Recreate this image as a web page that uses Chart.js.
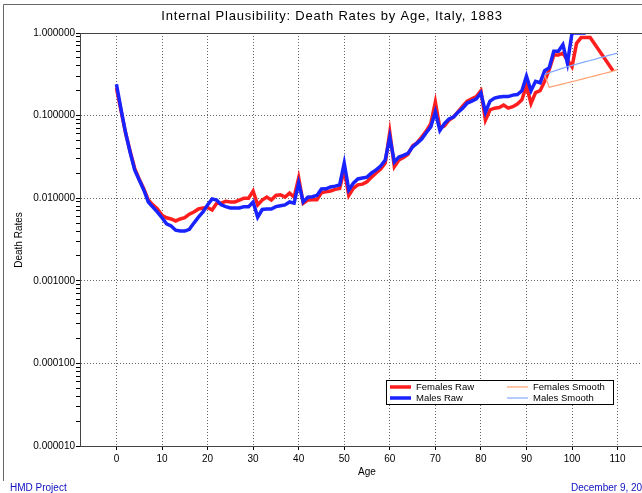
<!DOCTYPE html>
<html>
<head>
<meta charset="utf-8">
<script src="https://cdn.jsdelivr.net/npm/chart.js@4"></script>
<style>
  html, body { margin: 0; padding: 0; background: #fff; overflow: hidden; }
  #wrap { width: 664px; height: 493px; }
</style>
</head>
<body>
<div id="wrap"><canvas id="chart" width="664" height="493"></canvas></div>
<script>
// Вік 0..110
const ages = [0,1,2,3,4,5,6,7,8,9,10,11,12,13,14,15,16,17,18,19,20,21,22,23,24,25,26,27,28,29,
  30,31,32,33,34,35,36,37,38,39,40,41,42,43,44,45,46,47,48,49,50,51,52,53,54,55,56,57,58,59,
  60,61,62,63,64,65,66,67,68,69,70,71,72,73,74,75,76,77,78,79,80,81,82,83,84,85,86,87,88,89,
  90,91,92,93,94,95,96,97,98,99,100,101,102,103,104,105,106,107,108,109,110];

const femalesRaw = [0.215,0.115,0.062,0.037,0.023,0.017,0.013,0.0095,0.0083,0.0074,
  0.0062,0.0058,0.0056,0.0053,0.0056,0.0058,0.0064,0.0068,0.0074,0.0076,
  0.0077,0.0072,0.0087,0.0087,0.0092,0.0090,0.0090,0.0095,0.0100,0.0100,
  0.0122,0.0083,0.0095,0.0103,0.0095,0.0108,0.0110,0.0103,0.0115,0.0103,
  0.0176,0.0087,0.0095,0.0096,0.0096,0.0116,0.0120,0.0122,0.0128,0.0131,
  0.022,0.0108,0.0132,0.0145,0.0148,0.0158,0.018,0.0202,0.0225,0.0266,
  0.063,0.024,0.029,0.031,0.034,0.043,0.047,0.055,0.065,0.080,
  0.146,0.070,0.075,0.088,0.096,0.112,0.130,0.150,0.160,0.170,
  0.200,0.088,0.117,0.123,0.125,0.134,0.123,0.128,0.138,0.155,
  0.23,0.14,0.19,0.20,0.26,0.36,0.54,0.54,0.57,0.47,
  0.39,0.75,0.88,0.88,0.88,null,null,null,null,0.35,null];

const malesRaw = [0.24,0.12,0.062,0.036,0.022,0.0166,0.0126,0.0090,0.0078,0.0068,
  0.0058,0.0049,0.0046,0.0041,0.0040,0.0040,0.0042,0.0050,0.0059,0.0068,
  0.0083,0.0098,0.0095,0.0083,0.0079,0.0076,0.0076,0.0076,0.0079,0.0079,
  0.0090,0.0059,0.0073,0.0074,0.0074,0.0079,0.0081,0.0083,0.0090,0.0087,
  0.0153,0.0090,0.0103,0.0104,0.0108,0.0129,0.0130,0.0137,0.0140,0.0145,
  0.0266,0.0126,0.0152,0.0171,0.0176,0.0180,0.0202,0.0220,0.0245,0.0290,
  0.055,0.0275,0.0315,0.033,0.035,0.0417,0.0465,0.052,0.062,0.073,
  0.111,0.066,0.080,0.091,0.096,0.110,0.123,0.142,0.150,0.160,
  0.188,0.110,0.150,0.163,0.168,0.170,0.170,0.177,0.180,0.200,
  0.30,0.20,0.26,0.25,0.35,0.38,0.60,0.60,0.72,0.43,
  1.0,1.0,1.0,1.0,null,null,null,null,null,null,null];

// Згладжені значення для старших віків
const smoothAges = [94,95,96,97,98,99,100,101,102,103,104,105,106,107,108,109,110];
const femalesSmooth = [0.31,0.220,0.227,0.234,0.242,0.250,0.258,0.266,0.275,0.284,0.293,0.303,0.313,0.323,0.334,0.345,0.360];
const malesSmooth = [0.31,0.330,0.345,0.360,0.375,0.390,0.405,0.420,0.435,0.450,0.465,0.480,0.500,0.515,0.535,0.550,0.570];

const xTicks = [0,10,20,30,40,50,60,70,80,90,100,110];
const yTicks = [0.00001,0.0001,0.001,0.01,0.1,1];

const FONT = "'Liberation Sans', Arial, sans-serif";

function isMajor(v) {
  const l = Math.log10(v);
  return Math.abs(l - Math.round(l)) < 1e-9;
}

function points(xs, ys) {
  return xs.map((x, i) => ({ x, y: ys[i] }));
}

// Рамки, заголовки, легенда
const decor = {
  id: 'decor',
  beforeDraw(chart) {
    const ctx = chart.ctx;
    ctx.save();
    ctx.fillStyle = '#fff';
    ctx.fillRect(0, 0, chart.width, chart.height);
    ctx.restore();
  },
  afterDraw(chart) {
    const ctx = chart.ctx;
    const a = chart.chartArea;
    ctx.save();
    ctx.strokeStyle = '#444';
    ctx.lineWidth = 1;
    ctx.strokeRect(a.left + 0.5, a.top + 0.5, a.right - a.left, a.bottom - a.top);
    // зовнішня рамка: верх і лівий край
    ctx.strokeStyle = '#666';
    ctx.beginPath();
    ctx.moveTo(3.5, 481);
    ctx.lineTo(3.5, 4.5);
    ctx.lineTo(664, 4.5);
    ctx.stroke();

    ctx.fillStyle = '#000';
    ctx.textBaseline = 'middle';
    ctx.textAlign = 'center';
    ctx.font = '13px ' + FONT;
    ctx.letterSpacing = '0.8px';
    ctx.fillText('Internal Plausibility: Death Rates by Age, Italy, 1883', 332, 16);
    ctx.letterSpacing = '0px';
    ctx.font = '10px ' + FONT;
    ctx.fillText('Age', 367, 472);
    ctx.save();
    ctx.translate(19, 240);
    ctx.rotate(-Math.PI / 2);
    ctx.fillText('Death Rates', 0, 0);
    ctx.restore();

    ctx.fillStyle = '#1010c0';
    ctx.textAlign = 'left';
    ctx.fillText('HMD Project', 10, 488);
    ctx.fillText('December 9, 2006', 571, 488);

    // легенда
    ctx.fillStyle = '#fff';
    ctx.fillRect(386, 380, 228, 25);
    ctx.strokeStyle = '#000';
    ctx.lineWidth = 1;
    ctx.strokeRect(386.5, 380.5, 227, 24);
    chart.data.datasets.forEach((ds, i) => {
      const lx = i < 2 ? 390 : 507;
      const ly = i % 2 === 0 ? 387 : 398;
      ctx.strokeStyle = ds.borderColor;
      ctx.lineWidth = ds.borderWidth;
      ctx.beginPath();
      ctx.moveTo(lx, ly);
      ctx.lineTo(lx + 21, ly);
      ctx.stroke();
      ctx.fillStyle = '#000';
      ctx.font = '9.5px ' + FONT;
      ctx.fillText(ds.label, lx + 26, ly);
    });
    ctx.restore();
  }
};

const chart = new Chart(document.getElementById('chart'), {
  type: 'line',
  data: {
    datasets: [
      { label: 'Females Raw', data: points(ages, femalesRaw), borderColor: 'rgb(255,30,30)', borderWidth: 3.5, order: 2, spanGaps: true },
      { label: 'Males Raw', data: points(ages, malesRaw), borderColor: 'rgb(25,35,255)', borderWidth: 3.5, order: 1 },
      { label: 'Females Smooth', data: points(smoothAges, femalesSmooth), borderColor: 'rgb(255,160,115)', borderWidth: 1.2, order: 0 },
      { label: 'Males Smooth', data: points(smoothAges, malesSmooth), borderColor: 'rgb(130,170,255)', borderWidth: 1.2, order: 0 }
    ]
  },
  options: {
    responsive: false,
    animation: false,
    devicePixelRatio: 1,
    elements: { point: { radius: 0 }, line: { tension: 0 } },
    layout: { padding: { top: 33, right: 10, left: 0, bottom: 0 } },
    plugins: { legend: { display: false }, tooltip: { enabled: false } },
    scales: {
      x: {
        type: 'linear',
        min: -8,
        max: 118,
        afterBuildTicks: s => { s.ticks = xTicks.map(v => ({ value: v })); },
        afterFit: s => { s.height = 47; },
        ticks: { color: '#000', font: { size: 10, family: FONT }, padding: 3, maxRotation: 0, autoSkip: false },
        grid: { color: '#666', lineWidth: 1, tickColor: '#000', tickLength: 4 },
        border: { display: true, color: '#444', dash: [1, 2] }
      },
      y: {
        type: 'logarithmic',
        min: 0.00001,
        max: 1,
        afterBuildTicks: s => {
          const t = [];
          yTicks.forEach((m, k) => {
            t.push({ value: m });
            if (k < yTicks.length - 1) {
              for (let d = 2; d <= 9; d++) t.push({ value: m * d });
            }
          });
          s.ticks = t;
        },
        afterFit: s => { s.width = 80; },
        ticks: {
          color: '#000', font: { size: 10, family: FONT }, padding: 1, autoSkip: false,
          callback: v => isMajor(v) ? Number(v).toFixed(6) : ''
        },
        grid: {
          color: c => (c.tick && isMajor(c.tick.value)) ? '#666' : 'rgba(0,0,0,0)',
          lineWidth: 1, tickColor: '#000', tickLength: 4
        },
        border: { display: true, color: '#444', dash: [1, 2] }
      }
    }
  },
  plugins: [decor]
});
</script>
</body>
</html>
